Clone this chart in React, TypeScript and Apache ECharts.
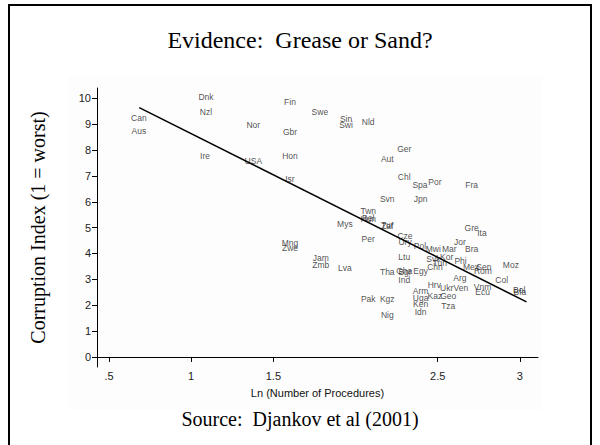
import React, { useEffect, useRef } from "react";
import * as echarts from "echarts";

const countries = [
  "Dnk", "Nzl", "Can", "Aus", "Nor", "Fin", "Gbr", "Ire", "USA", "Hon", "Isr",
  "Swe", "Sin", "Swi", "Nld", "Ger", "Aut", "Chl", "Spa", "Por", "Fra", "Svn", "Jpn",
  "Twn", "Bel", "Hun", "Tur", "Zaf", "Mys", "Per", "Cze", "Ury", "Pol", "Mwi", "Mar",
  "Jor", "Bra", "Gre", "Ita", "Jam", "Zmb", "Lva", "Mng", "Zwe", "Ltu", "Svk", "Kor",
  "Tun", "Phi", "Chn", "Tha", "Gha", "Bgr", "Egy", "Mex", "Sen", "Rom", "Moz", "Col",
  "Arg", "Ind", "Hrv", "Ukr", "Ven", "Vnm", "Ecu", "Bol", "Bfa", "Arm", "Kaz", "Geo",
  "Uga", "Ken", "Idn", "Tza", "Pak", "Kgz", "Nig",
];
const lnProcedures = [
  1.09, 1.09, 0.682, 0.682, 1.378, 1.601, 1.601, 1.084, 1.378, 1.601, 1.601,
  1.783, 1.942, 1.942, 2.077, 2.296, 2.193, 2.296, 2.392, 2.483, 2.706, 2.193, 2.396,
  2.077, 2.077, 2.077, 2.193, 2.193, 1.935, 2.077, 2.301, 2.301, 2.392, 2.473, 2.57,
  2.635, 2.706, 2.706, 2.769, 1.788, 1.788, 1.935, 1.601, 1.601, 2.296, 2.473, 2.554,
  2.513, 2.639, 2.483, 2.193, 2.296, 2.301, 2.396, 2.702, 2.781, 2.775, 2.945, 2.889,
  2.635, 2.296, 2.479, 2.554, 2.641, 2.773, 2.773, 2.996, 3.0, 2.396, 2.483, 2.564,
  2.396, 2.396, 2.396, 2.564, 2.077, 2.193, 2.193,
];
const corruption = [
  10.05, 9.47, 9.25, 8.74, 8.96, 9.86, 8.68, 7.76, 7.57, 7.76, 6.9,
  9.47, 9.22, 8.96, 9.08, 8.06, 7.64, 6.95, 6.64, 6.77, 6.64, 6.09, 6.09,
  5.64, 5.39, 5.35, 5.12, 5.08, 5.14, 4.56, 4.68, 4.43, 4.29, 4.18, 4.16,
  4.45, 4.17, 4.97, 4.78, 3.81, 3.55, 3.42, 4.39, 4.2, 3.85, 3.77, 3.87,
  3.65, 3.72, 3.46, 3.27, 3.33, 3.3, 3.33, 3.47, 3.49, 3.32, 3.55, 2.97,
  3.06, 2.97, 2.77, 2.65, 2.65, 2.69, 2.52, 2.59, 2.5, 2.55, 2.36, 2.36,
  2.29, 2.05, 1.75, 1.97, 2.25, 2.25, 1.62,
];
const fitX = [0.684, 3.04];
const fitY = [9.64, 2.13];
const xTicks = [0.5, 1, 1.5, 2.5, 3];
const yTicks = [0, 1, 2, 3, 4, 5, 6, 7, 8, 9, 10];

const titleText = "Evidence:  Grease or Sand?";
const sourceText = "Source:  Djankov et al (2001)";

export default function App() {
  const ref = useRef<HTMLDivElement>(null);
  useEffect(() => {
    const chart = echarts.init(ref.current!, null, { renderer: "svg" });
    const pts = countries.map((c, i) => ({ name: c, value: [lnProcedures[i], corruption[i]] }));
    chart.setOption({
      animation: false,
      backgroundColor: "#ffffff",
      grid: { left: 97, right: 62, top: 88, bottom: 78 },
      xAxis: {
        type: "value",
        min: 0.427,
        max: 3.11,
        name: "Ln (Number of Procedures)",
        nameLocation: "middle",
        nameGap: 20,
        nameTextStyle: { fontFamily: "Liberation Sans", fontSize: 11, color: "#111" },
        axisLine: { show: true, lineStyle: { color: "#000", width: 1 } },
        axisTick: { show: true, length: 5, customValues: xTicks, lineStyle: { color: "#000" } },
        axisLabel: {
          customValues: xTicks,
          margin: 3,
          fontFamily: "Liberation Sans",
          fontSize: 11,
          color: "#222",
          formatter: (v: number) => (v === 0.5 ? ".5" : String(v)),
        },
        splitLine: { show: false },
      },
      yAxis: {
        type: "value",
        min: -0.39,
        max: 10.4,
        name: "Corruption Index (1 = worst)",
        nameLocation: "middle",
        nameGap: 49,
        nameRotate: 90,
        nameTextStyle: { fontFamily: "Liberation Serif", fontSize: 20, color: "#000" },
        axisLine: { show: true, lineStyle: { color: "#000", width: 1 } },
        axisTick: { show: true, length: 5, customValues: yTicks, lineStyle: { color: "#000" } },
        axisLabel: {
          customValues: yTicks,
          margin: 6,
          fontFamily: "Liberation Sans",
          fontSize: 11,
          color: "#222",
        },
        splitLine: { show: false },
      },
      graphic: [
        {
          type: "rect",
          z: -10,
          shape: { x: 68, y: 76, width: 474, height: 334 },
          style: { fill: "#fdfdfd" },
          silent: true,
        },
        {
          type: "rect",
          z: 100,
          shape: { x: 9, y: 5, width: 582, height: 460 },
          style: { fill: "none", stroke: "#000", lineWidth: 2 },
          silent: true,
        },
        {
          type: "text",
          x: 300,
          y: 40,
          style: {
            text: titleText,
            fontFamily: "Liberation Serif",
            fontSize: 24,
            fill: "#000",
            align: "center",
            verticalAlign: "middle",
          },
        },
        {
          type: "text",
          x: 300,
          y: 419,
          style: {
            text: sourceText,
            fontFamily: "Liberation Serif",
            fontSize: 20,
            fill: "#000",
            align: "center",
            verticalAlign: "middle",
          },
        },
      ],
      series: [
        {
          type: "scatter",
          data: pts,
          symbolSize: 1,
          itemStyle: { color: "rgba(0,0,0,0)" },
          label: {
            show: true,
            position: "inside",
            formatter: "{b}",
            fontFamily: "Liberation Sans",
            fontSize: 8.5,
            color: "#222",
          },
          labelLayout: { hideOverlap: false },
          z: 2,
        },
        {
          type: "line",
          data: fitX.map((x, i) => [x, fitY[i]]),
          symbol: "none",
          lineStyle: { color: "#000", width: 1.5 },
          z: 3,
        },
      ],
    });
    return () => chart.dispose();
  }, []);
  return (
    <div
      ref={ref}
      style={{ position: "absolute", left: 0, top: 0, width: 600, height: 445, background: "#fff" }}
    />
  );
}
